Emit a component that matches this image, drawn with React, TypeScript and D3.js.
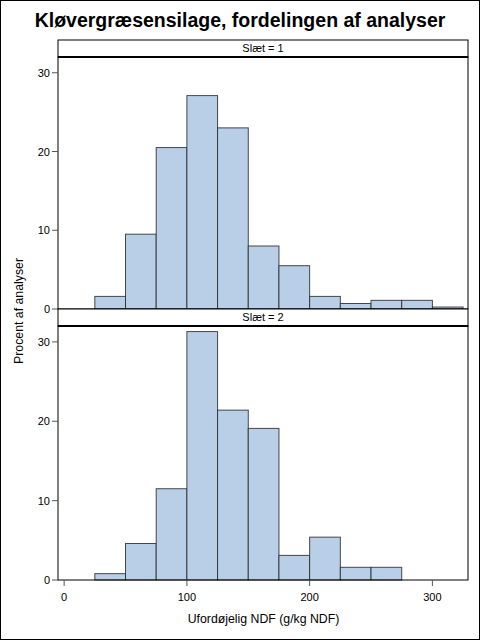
import React from "react";
import * as d3 from "d3";

// histogram bins: lower edges (width 25 g/kg NDF)
const binStarts = [0, 25, 50, 75, 100, 125, 150, 175, 200, 225, 250, 275, 300];
const binWidth = 25;
const slaet1 = [0, 1.6, 9.5, 20.5, 27.1, 23.0, 8.0, 5.5, 1.6, 0.7, 1.1, 1.1, 0.25];
const slaet2 = [0, 0.8, 4.6, 11.5, 31.3, 21.4, 19.1, 3.1, 5.4, 1.6, 1.6, 0, 0];
const panelLabels = ["Slæt = 1", "Slæt = 2"];
const yTicks = [0, 10, 20, 30];
const xTicks = [0, 100, 200, 300];

const W = 480;
const H = 640;
const FONT = "'Liberation Sans', Arial, sans-serif";
const FILL = "#b9cfe7";
const EDGE = "#2a2a2a";

const left = 58;
const right = 468;
const headerH = 17;
const panels = [
  { top: 40, bottom: 309, values: slaet1, label: panelLabels[0] },
  { top: 309, bottom: 580, values: slaet2, label: panelLabels[1] },
];

const x = d3.scaleLinear().domain([-5, 329]).range([left, right]);

function Panel({ top, bottom, values, label, showX }: any) {
  const plotTop = top + headerH;
  const y = d3.scaleLinear().domain([0, 32]).range([bottom, plotTop]);
  return (
    <g>
      {/* header strip */}
      <rect x={left} y={top} width={right - left} height={headerH} fill="#fff" stroke="#000" strokeWidth={1} />
      <text x={(left + right) / 2} y={top + 12} textAnchor="middle" fontFamily={FONT} fontSize={11} fill="#000">
        {label}
      </text>
      {/* bars */}
      {binStarts.map((b, i) => (
        <rect
          key={i}
          x={x(b)}
          y={y(values[i])}
          width={x(b + binWidth) - x(b)}
          height={y(0) - y(values[i])}
          fill={FILL}
          stroke={EDGE}
          strokeOpacity={0.85}
          strokeWidth={1}
        />
      ))}
      {/* frame */}
      <rect x={left} y={plotTop} width={right - left} height={bottom - plotTop} fill="none" stroke="#000" strokeWidth={1} />
      <line x1={left} x2={right} y1={plotTop} y2={plotTop} stroke="#000" strokeWidth={2} />
      {/* y axis */}
      {yTicks.map((t) => (
        <g key={t}>
          <line x1={left - 6} x2={left} y1={y(t)} y2={y(t)} stroke="#555" strokeWidth={1} />
          <text x={left - 8} y={y(t) + 4} textAnchor="end" fontFamily={FONT} fontSize={11} fill="#000">
            {t}
          </text>
        </g>
      ))}
      {showX &&
        xTicks.map((t) => (
          <g key={t}>
            <line x1={x(t)} x2={x(t)} y1={bottom} y2={bottom + 6} stroke="#555" strokeWidth={1} />
            <text x={x(t)} y={bottom + 21} textAnchor="middle" fontFamily={FONT} fontSize={11} fill="#000">
              {t}
            </text>
          </g>
        ))}
    </g>
  );
}

export default function App() {
  return (
    <svg
      width={W}
      height={H}
      style={{ position: "absolute", left: 0, top: 0, background: "#fff" }}
    >
      <rect x={0.5} y={0.5} width={W - 1} height={H - 1} fill="#fff" stroke="#000" strokeWidth={1} />
      <text x={W / 2} y={27} textAnchor="middle" fontFamily={FONT} fontSize={19.5} fontWeight="bold" fill="#000">
        Kløvergræsensilage, fordelingen af analyser
      </text>
      {panels.map((p, i) => (
        <Panel key={i} {...p} showX={i === panels.length - 1} />
      ))}
      <text
        transform={`translate(23,311) rotate(-90)`}
        textAnchor="middle"
        fontFamily={FONT}
        fontSize={12.3}
        fill="#000"
      >
        Procent af analyser
      </text>
      <text x={(left + right) / 2 + 0.5} y={623} textAnchor="middle" fontFamily={FONT} fontSize={12.3} fill="#000">
        Ufordøjelig NDF (g/kg NDF)
      </text>
    </svg>
  );
}
